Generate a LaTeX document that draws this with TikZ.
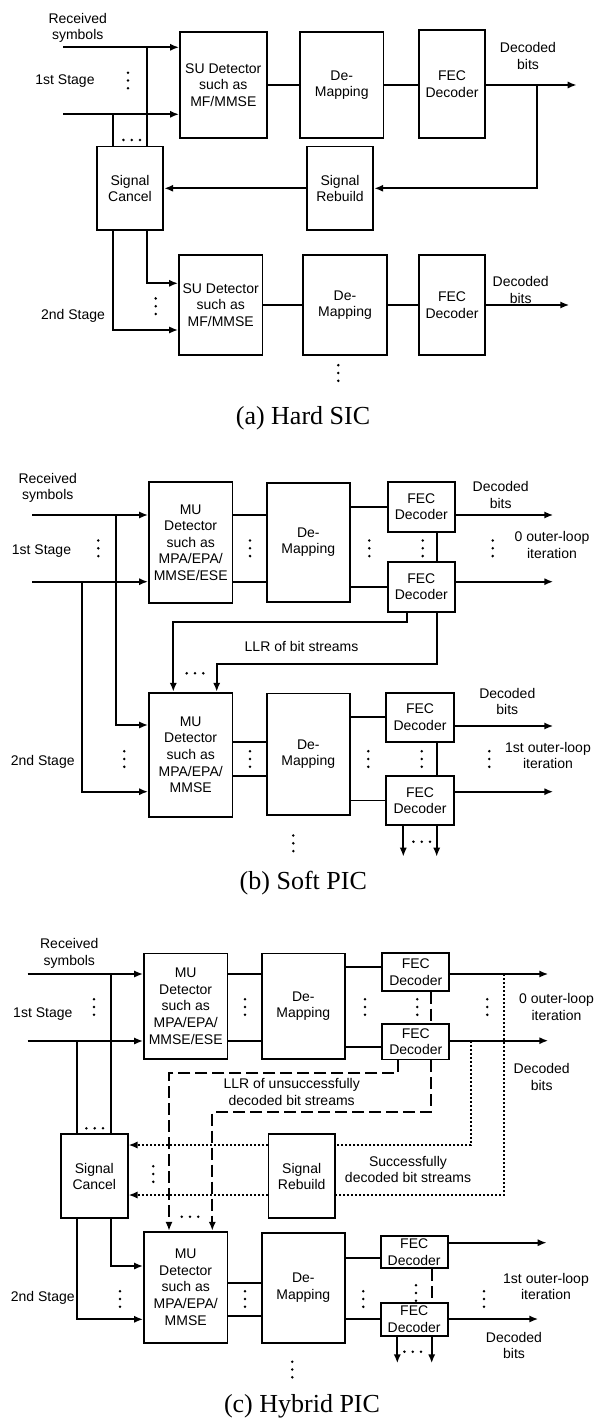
\documentclass[tikz,border=0pt]{standalone}
\usepackage{fontspec}
\setmainfont{Liberation Serif}
\newfontfamily\arialfont{Liberation Sans}
\usetikzlibrary{arrows.meta}

\tikzset{
  bloco/.style={draw, line width=0.9pt, fill=white, align=center, inner sep=0.5pt,
    font=\arialfont\fontsize{7}{8.3}\selectfont},
  rotulo/.style={align=center, inner sep=0pt, font=\arialfont\fontsize{7}{8.3}\selectfont},
  legenda/.style={inner sep=0pt, font=\fontsize{13}{15}\selectfont},
  fio/.style={line width=0.9pt},
  seta/.style={fio, -{Latex[length=4.5pt,width=3.6pt]}},
  tracejado/.style={dash pattern=on 6pt off 2.5pt},
  pontilhado/.style={dash pattern=on 1pt off 1pt},
}

\begin{document}
\begin{tikzpicture}[x=0.5pt,y=-0.5pt]
  \useasboundingbox (0,0) rectangle (597,1422);

  % (a) Hard SIC: blocos do primeiro e do segundo estágio.
  \node[bloco, minimum width=43.3pt, minimum height=53.3pt] (a-sud) at (223.3,85) {SU Detector\\such as\\MF/MMSE};
  \node[bloco, minimum width=41.7pt, minimum height=53.3pt] (a-dem) at (341.7,85) {De-\\Mapping};
  \node[bloco, minimum width=33pt, minimum height=54pt] (a-fec) at (452,84.2) {FEC\\Decoder};
  \node[bloco, minimum width=33.3pt, minimum height=41.7pt] (a-reb) at (340,188.3) {Signal\\Rebuild};
  \node[bloco, minimum width=33.3pt, minimum height=41.7pt] (a-can) at (130,188.3) {Signal\\Cancel};
  \node[bloco, minimum width=41.7pt, minimum height=50pt] (a-sud2) at (220.7,305) {SU Detector\\such as\\MF/MMSE};
  \node[bloco, minimum width=41.7pt, minimum height=50pt] (a-dem2) at (345,305) {De-\\Mapping};
  \node[bloco, minimum width=33pt, minimum height=50pt] (a-fec2) at (452,305) {FEC\\Decoder};

  \node[rotulo] (a-rec) at (77.7,28) {Received\\symbols};
  \node[rotulo] (a-st1) at (65,80.7) {1st Stage};
  \node[rotulo] (a-st2) at (73,315.7) {2nd Stage};
  \node[rotulo] (a-dec1) at (528,56) {Decoded\\bits};
  \node[rotulo] (a-dec2) at (520.7,290) {Decoded\\bits};
  \node[legenda] (a-leg) at (303,418) {(a) Hard SIC};

  \coordinate (a-in1) at (63,47.3);
  \coordinate (a-in2) at (63,114.3);
  \coordinate (a-v1) at (146.7,47.3);
  \coordinate (a-v2) at (113.3,114.3);
  \coordinate (a-k1) at (146.7,283.3);
  \coordinate (a-k2) at (113.3,330);
  \coordinate (a-j1) at (536.7,85);
  \coordinate (a-out1) at (576.7,85);
  \coordinate (a-out2) at (569.3,305);

  % Entradas, cancelamento e realimentação do sinal reconstruído.
  \draw[seta] (a-in1) -- (a-in1 -| a-sud.west);
  \draw[seta] (a-in2) -- (a-in2 -| a-sud.west);
  \draw[fio] (a-v1) -- (a-v1 |- a-can.north);
  \draw[fio] (a-v2) -- (a-v2 |- a-can.north);
  \draw[seta] (a-v1 |- a-can.south) -- (a-k1) -- (a-k1 -| a-sud2.west);
  \draw[seta] (a-v2 |- a-can.south) -- (a-k2) -- (a-k2 -| a-sud2.west);
  \draw[fio] (a-sud) -- (a-dem);
  \draw[fio] (a-dem.east) -- (a-dem.east -| a-fec.west);
  \draw[seta] (a-out1 -| a-fec.east) -- (a-out1);
  \draw[seta] (a-j1) |- (a-reb.east);
  \draw[seta] (a-reb) -- (a-can);
  \draw[fio] (a-sud2) -- (a-dem2);
  \draw[fio] (a-dem2) -- (a-fec2);
  \draw[seta] (a-fec2) -- (a-out2);

  % Reticências verticais e horizontais.
  \foreach \x/\y in {128/80.5, 155.7/306.2, 338.3/373} {
    \foreach \d in {-7.8,0,7.8} \fill (\x,\y+\d) circle (0.7pt);
  }
  \foreach \d in {-8.3,0,8.3} \fill (131.7+\d,140) circle (0.7pt);

  % (b) Soft PIC: blocos.
  \node[bloco, minimum width=41.7pt, minimum height=60.8pt] (b-mud) at (190.7,542.5) {MU\\Detector\\such as\\MPA/EPA/\\MMSE/ESE};
  \node[bloco, minimum width=41.7pt, minimum height=59.5pt] (b-dem) at (308.3,542.2) {De-\\Mapping};
  \node[bloco, minimum width=33.7pt, minimum height=25pt] (b-fec1) at (421.3,506.7) {FEC\\Decoder};
  \node[bloco, minimum width=33.7pt, minimum height=25pt] (b-fec2) at (421.3,586.7) {FEC\\Decoder};
  \node[bloco, minimum width=41.7pt, minimum height=62pt] (b-mud2) at (190.7,754.7) {MU\\Detector\\such as\\MPA/EPA/\\MMSE};
  \node[bloco, minimum width=41.7pt, minimum height=60.8pt] (b-dem2) at (308.3,754.2) {De-\\Mapping};
  \node[bloco, minimum width=34pt, minimum height=24.5pt] (b-fec3) at (420,717.2) {FEC\\Decoder};
  \node[bloco, minimum width=34pt, minimum height=24.5pt] (b-fec4) at (420,800.5) {FEC\\Decoder};

  \node[rotulo] (b-rec) at (47.7,487.7) {Received\\symbols};
  \node[rotulo] (b-st1) at (41.5,550.7) {1st Stage};
  \node[rotulo] (b-dec1) at (500.7,495) {Decoded\\bits};
  \node[rotulo] (b-it0) at (552,545) {0 outer-loop\\iteration};
  \node[rotulo] (b-llr) at (301.5,646) {LLR of bit streams};
  \node[rotulo] (b-st2) at (42.7,761.7) {2nd Stage};
  \node[rotulo] (b-dec2) at (507.3,701.3) {Decoded\\bits};
  \node[rotulo] (b-it1) at (548,755.3) {1st outer-loop\\iteration};
  \node[legenda] (b-leg) at (303.3,883.3) {(b) Soft PIC};

  \coordinate (b-in1) at (32.3,515);
  \coordinate (b-in2) at (32.3,581.7);
  \coordinate (b-v1) at (115.7,515);
  \coordinate (b-v2) at (82.3,581.7);
  \coordinate (b-k1) at (115.7,725);
  \coordinate (b-k2) at (82.3,791.7);
  \coordinate (b-out1) at (553.3,515);
  \coordinate (b-out2) at (553.3,581.7);
  \coordinate (b-c1) at (406.7,622.3);
  \coordinate (b-c1e) at (173.3,622.3);
  \coordinate (b-c2) at (436.7,664);
  \coordinate (b-c2e) at (216.7,664);
  \coordinate (b-y1) at (0,741.7);
  \coordinate (b-y2) at (0,775.7);
  \coordinate (b-out3) at (553.3,726);
  \coordinate (b-out4) at (553.3,791.7);
  \coordinate (b-d1) at (403.3,856.7);
  \coordinate (b-d2) at (436.7,856.7);

  % Entradas dos dois estágios.
  \draw[seta] (b-in1) -- (b-in1 -| b-mud.west);
  \draw[seta] (b-in2) -- (b-in2 -| b-mud.west);
  \draw[seta] (b-v1) -- (b-k1) -- (b-k1 -| b-mud2.west);
  \draw[seta] (b-v2) -- (b-k2) -- (b-k2 -| b-mud2.west);

  % Ligações internas do primeiro estágio e saídas.
  \draw[fio] (b-in1 -| b-mud.east) -- (b-in1 -| b-dem.west);
  \draw[fio] (b-in2 -| b-mud.east) -- (b-in2 -| b-dem.west);
  \draw[fio] (b-fec1.west -| b-dem.east) -- (b-fec1.west);
  \draw[fio] (b-fec2.west -| b-dem.east) -- (b-fec2.west);
  \draw[seta] (b-out1 -| b-fec1.east) -- (b-out1);
  \draw[seta] (b-out2 -| b-fec2.east) -- (b-out2);
  \draw[fio] (b-c2 |- b-fec1.south) -- (b-c2 |- b-fec2.north);

  % LLR realimentado para o segundo estágio.
  \draw[seta] (b-c1 |- b-fec2.south) -- (b-c1) -- (b-c1e) -- (b-c1e |- b-mud2.north);
  \draw[seta] (b-c2 |- b-fec2.south) -- (b-c2) -- (b-c2e) -- (b-c2e |- b-mud2.north);

  % Segundo estágio.
  \draw[fio] (b-y1 -| b-mud2.east) -- (b-y1 -| b-dem2.west);
  \draw[fio] (b-y2 -| b-mud2.east) -- (b-y2 -| b-dem2.west);
  \draw[fio] (b-fec3.west -| b-dem2.east) -- (b-fec3.west);
  \draw[fio] (b-fec4.west -| b-dem2.east) -- (b-fec4.west);
  \draw[seta] (b-out3 -| b-fec3.east) -- (b-out3);
  \draw[seta] (b-out4 -| b-fec4.east) -- (b-out4);
  \draw[fio] (b-c2 |- b-fec3.south) -- (b-c2 |- b-fec4.north);
  \draw[seta] (b-d1 |- b-fec4.south) -- (b-d1);
  \draw[seta] (b-d2 |- b-fec4.south) -- (b-d2);

  \foreach \x/\y in {98.3/548.3, 250/548.3, 369.3/548.3, 422.7/548.3, 492.7/548.3,
      124.3/759, 250/759, 368.3/759, 421.7/759, 489.3/759, 293.3/843.3} {
    \foreach \d in {-7.8,0,7.8} \fill (\x,\y+\d) circle (0.7pt);
  }
  \foreach \x/\y in {195/673.3, 421.7/841.7} {
    \foreach \d in {-8.3,0,8.3} \fill (\x+\d,\y) circle (0.7pt);
  }

  % (c) Hybrid PIC: blocos.
  \node[bloco, minimum width=41.7pt, minimum height=52.8pt] (c-mud) at (185.7,1006.2) {MU\\Detector\\such as\\MPA/EPA/\\MMSE/ESE};
  \node[bloco, minimum width=41.7pt, minimum height=52.8pt] (c-dem) at (303.3,1006.2) {De-\\Mapping};
  \node[bloco, minimum width=33.5pt, minimum height=18.7pt] (c-fec1) at (415.8,972) {FEC\\Decoder};
  \node[bloco, minimum width=33.5pt, minimum height=17.7pt] (c-fec2) at (415.8,1041.7) {FEC\\Decoder};
  \node[bloco, minimum width=33.3pt, minimum height=42pt] (c-can) at (94.3,1176.3) {Signal\\Cancel};
  \node[bloco, minimum width=33.3pt, minimum height=42pt] (c-reb) at (301.7,1176.3) {Signal\\Rebuild};
  \node[bloco, minimum width=41.7pt, minimum height=55.5pt] (c-mud2) at (185.7,1287.2) {MU\\Detector\\such as\\MPA/EPA/\\MMSE};
  \node[bloco, minimum width=41.7pt, minimum height=55pt] (c-dem2) at (303.3,1287.7) {De-\\Mapping};
  \node[bloco, minimum width=33.5pt, minimum height=16.3pt] (c-fec3) at (414.2,1252) {FEC\\Decoder};
  \node[bloco, minimum width=33.5pt, minimum height=16.5pt] (c-fec4) at (414.2,1319.2) {FEC\\Decoder};

  \node[rotulo] (c-rec) at (69.3,953.3) {Received\\symbols};
  \node[rotulo] (c-st1) at (42.8,1014.3) {1st Stage};
  \node[rotulo] (c-it0) at (556.5,1007) {0 outer-loop\\iteration};
  \node[rotulo] (c-dec1) at (541.7,1076.7) {Decoded\\bits};
  \node[rotulo] (c-llr) at (291.7,1091.7) {LLR of unsuccessfully\\decoded bit streams};
  \node[rotulo] (c-suc) at (408,1169.5) {Successfully\\decoded bit streams};
  \node[rotulo] (c-st2) at (42.8,1297.7) {2nd Stage};
  \node[rotulo] (c-it1) at (546,1286.3) {1st outer-loop\\iteration};
  \node[rotulo] (c-dec2) at (514,1345.3) {Decoded\\bits};
  \node[legenda] (c-leg) at (302,1406.7) {(c) Hybrid PIC};

  \coordinate (c-in1) at (27.7,974);
  \coordinate (c-in2) at (27.7,1041);
  \coordinate (c-v1) at (111,974);
  \coordinate (c-v2) at (77,1041);
  \coordinate (c-k1) at (111,1266);
  \coordinate (c-k2) at (77,1319.3);
  \coordinate (c-y1) at (0,967.3);
  \coordinate (c-y2) at (0,1047.3);
  \coordinate (c-out1) at (548.3,974);
  \coordinate (c-out2) at (548.3,1040.7);
  \coordinate (c-t1) at (431,1112.3);
  \coordinate (c-t1e) at (212.3,1112.3);
  \coordinate (c-t2) at (398.3,1073.3);
  \coordinate (c-t2e) at (169,1073.3);
  \coordinate (c-p1) at (504,974);
  \coordinate (c-p1k) at (504,1195);
  \coordinate (c-p2) at (471,1040.7);
  \coordinate (c-p2k) at (471,1145);
  \coordinate (c-y3) at (0,1282.7);
  \coordinate (c-y4) at (0,1315.7);
  \coordinate (c-y5) at (0,1258.3);
  \coordinate (c-out3) at (546.7,1242.7);
  \coordinate (c-out4) at (538.3,1319);
  \coordinate (c-d1) at (397.3,1363.3);
  \coordinate (c-d2) at (431.7,1363.3);

  % Entradas e cancelamento.
  \draw[seta] (c-in1) -- (c-in1 -| c-mud.west);
  \draw[seta] (c-in2) -- (c-in2 -| c-mud.west);
  \draw[fio] (c-v1) -- (c-v1 |- c-can.north);
  \draw[fio] (c-v2) -- (c-v2 |- c-can.north);
  \draw[seta] (c-v1 |- c-can.south) -- (c-k1) -- (c-k1 -| c-mud2.west);
  \draw[seta] (c-v2 |- c-can.south) -- (c-k2) -- (c-k2 -| c-mud2.west);

  % Primeiro estágio e saídas.
  \draw[fio] (c-in1 -| c-mud.east) -- (c-in1 -| c-dem.west);
  \draw[fio] (c-in2 -| c-mud.east) -- (c-in2 -| c-dem.west);
  \draw[fio] (c-y1 -| c-dem.east) -- (c-y1 -| c-fec1.west);
  \draw[fio] (c-y2 -| c-dem.east) -- (c-y2 -| c-fec2.west);
  \draw[seta] (c-out1 -| c-fec1.east) -- (c-out1);
  \draw[seta] (c-out2 -| c-fec2.east) -- (c-out2);

  % LLR dos fluxos não decodificados (tracejado).
  \draw[fio, tracejado] (c-t1 |- c-fec1.south) -- (c-t1 |- c-fec2.north);
  \draw[seta, tracejado] (c-t1 |- c-fec2.south) -- (c-t1) -- (c-t1e) -- (c-t1e |- c-mud2.north);
  \draw[seta, tracejado] (c-t2 |- c-fec2.south) -- (c-t2) -- (c-t2e) -- (c-t2e |- c-mud2.north);

  % Fluxos decodificados com sucesso (pontilhado).
  \draw[fio, pontilhado] (c-p1) -- (c-p1k) -- (c-p1k -| c-reb.east);
  \draw[fio, pontilhado] (c-p2) -- (c-p2k) -- (c-p2k -| c-reb.east);
  \draw[seta, pontilhado] (c-p1k -| c-reb.west) -- (c-p1k -| c-can.east);
  \draw[seta, pontilhado] (c-p2k -| c-reb.west) -- (c-p2k -| c-can.east);

  % Segundo estágio.
  \draw[fio] (c-y3 -| c-mud2.east) -- (c-y3 -| c-dem2.west);
  \draw[fio] (c-y4 -| c-mud2.east) -- (c-y4 -| c-dem2.west);
  \draw[fio] (c-y5 -| c-dem2.east) -- (c-y5 -| c-fec3.west);
  \draw[fio] (c-fec4.west -| c-dem2.east) -- (c-fec4.west);
  \draw[seta] (c-out3 -| c-fec3.east) -- (c-out3);
  \draw[seta] (c-out4 -| c-fec4.east) -- (c-out4);
  \draw[fio, tracejado] (c-d2 |- c-fec3.south) -- (c-d2 |- c-fec4.north);
  \draw[seta] (c-d1 |- c-fec4.south) -- (c-d1);
  \draw[seta] (c-d2 |- c-fec4.south) -- (c-d2);

  \foreach \x/\y in {94/1007, 245/1007, 365/1007, 417.3/1007, 487.3/1007, 153.3/1174,
      120/1299, 245/1299, 363.3/1299, 416/1293, 484/1299, 292.3/1369.5} {
    \foreach \d in {-7.8,0,7.8} \fill (\x,\y+\d) circle (0.7pt);
  }
  \foreach \x/\y in {94.7/1128.3, 190/1216.7, 412.7/1351.7} {
    \foreach \d in {-8.3,0,8.3} \fill (\x+\d,\y) circle (0.7pt);
  }
\end{tikzpicture}
\end{document}
